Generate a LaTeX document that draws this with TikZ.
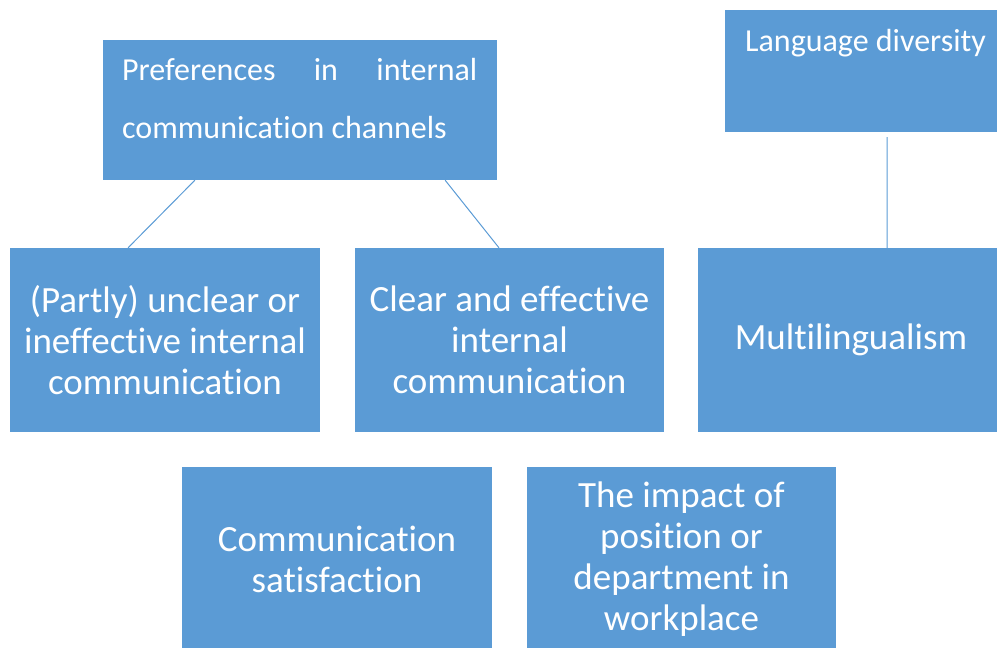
\documentclass[tikz,border=0pt]{standalone}
\usepackage{fontspec}
\setmainfont{Carlito}[Ligatures=NoCommon]
\usetikzlibrary{calc}
\definecolor{boxblue}{HTML}{5B9BD5}
\tikzset{
  topic/.style={fill=boxblue, draw=none, inner sep=0pt, text=white,
    align=center, font=\fontsize{37}{41}\selectfont},
  headtext/.style={text=white, inner sep=0pt, font=\fontsize{32}{58}\selectfont},
  conn/.style={draw=boxblue, line width=1pt}
}
\begin{document}
\begin{tikzpicture}[x=1pt,y=-1pt]
\useasboundingbox (0,0) rectangle (997,648);
\clip (0,0) rectangle (997,648);
% upper boxes with their text at the top
\node[topic, minimum width=394pt, minimum height=140pt] (pref) at (300,110) {};
\node[headtext, anchor=base west, text width=355pt, align=justify] (preftext) at (122,80)
  {Preferences in internal communication channels};
\node[topic, minimum width=272pt, minimum height=122pt] (lang) at (861,71) {};
\node[headtext, anchor=base west] (langtext) at (745,51) {Language diversity};
% middle row
\node[topic, minimum width=310pt, minimum height=184pt] (unclear) at (165,340)
  {(Partly) unclear or\\ineffective internal\\communication};
\node[topic, minimum width=309pt, minimum height=184pt] (clear) at (509.5,340)
  {Clear and effective\\internal\\communication};
\node[topic, minimum width=299pt, minimum height=184pt] (multi) at (847.5,340)
  {\hspace*{7pt}Multilingualism};
% bottom row
\node[topic, minimum width=310pt, minimum height=184pt] (satis) at (337,559)
  {Communication\\satisfaction};
\node[topic, minimum width=309pt, minimum height=184pt] (impact) at (681.5,559)
  {The impact of\\position or\\department in\\workplace};
% connectors
\draw[conn] ($(pref.south west)!0.2335!(pref.south east)$) -- ($(unclear.north west)!0.381!(unclear.north east)$);
\draw[conn] ($(pref.south west)!0.868!(pref.south east)$) -- ($(clear.north west)!0.466!(clear.north east)$);
\draw[conn, shorten <=5pt] ($(lang.south west)!0.596!(lang.south east)$) -- ($(multi.north west)!0.632!(multi.north east)$);
\end{tikzpicture}
\end{document}
